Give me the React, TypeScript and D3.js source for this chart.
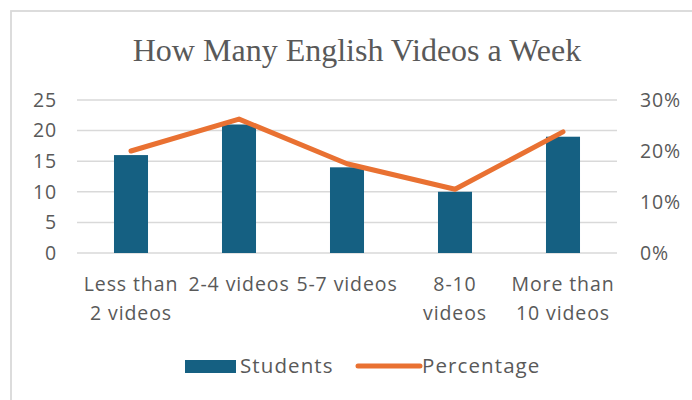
import React from "react";
import * as d3 from "d3";

const categories = ["Less than 2 videos", "2-4 videos", "5-7 videos", "8-10 videos", "More than 10 videos"];
const categoryLines = [["Less than", "2 videos"], ["2-4 videos"], ["5-7 videos"], ["8-10", "videos"], ["More than", "10 videos"]];
const students = [16, 21, 14, 10, 19];
const percentage = [0.2, 0.2625, 0.175, 0.125, 0.2375];
const leftTicks = [0, 5, 10, 15, 20, 25];
const rightTicks = [0, 0.1, 0.2, 0.3];
const title = "How Many English Videos a Week";

const W = 692, H = 400;
const plot = { left: 77, right: 617, top: 100, bottom: 253 };
const BAR = "#156082";
const LINE = "#E97132";
const TEXT = "#595959";
const GRID = "#d9d9d9";
const SANS = "'Open Sans', 'Liberation Sans', sans-serif";
const FS = 19.5;
const LS = 0.9;

export default function App() {
  const x = d3.scaleBand<string>().domain(categories).range([plot.left, plot.right]).paddingInner(0.685).paddingOuter(0.3425);
  const xc = d3.scaleBand<string>().domain(categories).range([plot.left, plot.right]);
  const yL = d3.scaleLinear().domain([0, 25]).range([plot.bottom, plot.top]);
  const yR = d3.scaleLinear().domain([0, 0.3]).range([plot.bottom, plot.top]);
  const line = d3.line<number>()
    .x((_, i) => xc(categories[i])! + xc.bandwidth() / 2)
    .y((d) => yR(d));
  const txt = { fontFamily: SANS, fontSize: FS, fill: TEXT, letterSpacing: LS } as const;
  return (
    <svg width={W} height={H} style={{ position: "absolute", left: 0, top: 0, background: "#fff" }}>
      <rect x={11} y={11} width={W + 20} height={H + 20} fill="#fff" stroke={GRID} strokeWidth={1.8} />
      <text x={357} y={61} textAnchor="middle" fontFamily="'Liberation Serif', 'Times New Roman', serif" fontSize={32} fill={TEXT}>{title}</text>
      {leftTicks.map((t) => (
        <line key={t} x1={plot.left} x2={plot.right} y1={yL(t)} y2={yL(t)} stroke={GRID} strokeWidth={1.5} />
      ))}
      {leftTicks.map((t) => (
        <text key={t} x={57} y={yL(t)} dy="0.35em" textAnchor="end" {...txt}>{t}</text>
      ))}
      {rightTicks.map((t) => (
        <text key={t} x={640} y={yR(t)} dy="0.35em" textAnchor="start" {...txt}>{d3.format(".0%")(t)}</text>
      ))}
      {students.map((v, i) => (
        <rect key={i} x={x(categories[i])} y={yL(v)} width={x.bandwidth()} height={yL(0) - yL(v)} fill={BAR} />
      ))}
      <path d={line(percentage) || ""} fill="none" stroke={LINE} strokeWidth={5} strokeLinejoin="round" strokeLinecap="round" />
      {categoryLines.map((lines, i) => (
        <text key={i} textAnchor="middle" {...txt}>
          {lines.map((l, j) => (
            <tspan key={j} x={xc(categories[i])! + xc.bandwidth() / 2} y={291 + j * 29}>{l}</tspan>
          ))}
        </text>
      ))}
      <rect x={185} y={360} width={51} height={13} fill={BAR} />
      <text x={240} y={366} dy="0.35em" {...txt} fontSize={20.5} letterSpacing={1.1}>Students</text>
      <line x1={358} x2={420} y1={366} y2={366} stroke={LINE} strokeWidth={5} strokeLinecap="round" />
      <text x={422} y={366} dy="0.35em" {...txt} fontSize={20.5} letterSpacing={1.1}>Percentage</text>
    </svg>
  );
}
